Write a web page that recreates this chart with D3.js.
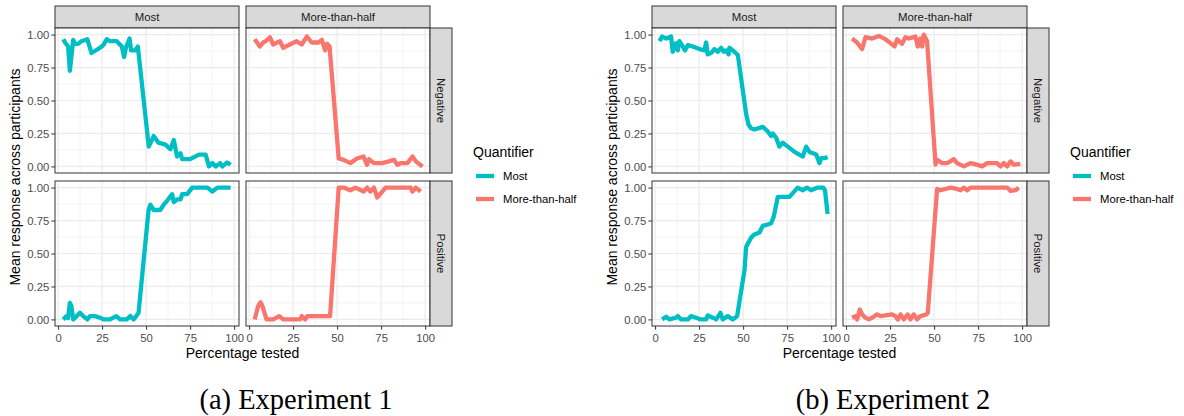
<!DOCTYPE html>
<html lang="en">
<head>
<meta charset="UTF-8">
<title>Mean response by percentage tested</title>
<script src="https://cdn.jsdelivr.net/npm/d3@7"></script>
<style>
    body { margin: 0; background: #fff; }
    svg { display: block; font-family: "Liberation Sans", Arial, sans-serif; }
</style>
</head>
<body>
<svg id="chart" width="1184" height="416"></svg>
<script>
// facet labels, ticks, colours
var quantifiers = ["Most", "More-than-half"];
var polarities = ["Negative", "Positive"];
var quantColors = ["#00BFC4", "#F8766D"];
var xTicks = [0, 25, 50, 75, 100];
var xMinor = [12.5, 37.5, 62.5, 87.5];
var yTicks = [0, 0.25, 0.5, 0.75, 1];
var yMinor = [0.125, 0.375, 0.625, 0.875];
var captions = ["(a) Experiment 1", "(b) Experiment 2"];

// [percentage tested, mean response]
var exp1MostNeg = [[3,0.965],[4,0.94],[5.7,0.91],[6.7,0.725],[8.6,0.96],[9.5,0.93],[11.4,0.93],[13.3,0.95],[16.6,0.965],[19,0.86],[23.8,0.9],[25.7,0.92],[27.6,0.965],[29.5,0.95],[33.3,0.95],[36.2,0.91],[37.5,0.83],[38.5,0.9],[40.6,0.97],[41.5,0.88],[43.8,0.88],[45.3,0.91],[51.5,0.15],[54.3,0.23],[57,0.18],[61,0.165],[63.8,0.13],[65.7,0.2],[67.6,0.075],[69.5,0.1],[70.5,0.055],[75,0.055],[80,0.09],[83.8,0.09],[85.7,0],[87.6,0.025],[89.5,0],[92,0.025],[93.3,0],[96,0.03],[98,0.012]];
var exp1MthNeg = [[3.2,0.965],[6.1,0.91],[8,0.94],[9.5,0.95],[11.8,0.98],[13.7,0.925],[17.5,0.95],[19.4,0.9],[23.2,0.925],[27,0.95],[29.9,0.925],[32.8,0.985],[35.6,0.94],[39.4,0.94],[41.3,0.96],[43.2,0.88],[44.3,0.93],[45.7,0.91],[50.9,0.06],[53.7,0.05],[57.5,0.025],[61.3,0.06],[65,0.075],[67,0.012],[68,0.055],[70.9,0.025],[75.6,0.025],[79.4,0.038],[82.3,0.05],[84.2,0.012],[86,0.025],[89.9,0.025],[92.8,0.075],[94.7,0.038],[98.5,0]];
var exp1MostPos = [[2.9,0],[4.8,0.025],[5.7,0.01],[6.7,0.125],[7.6,0.1],[8.6,0],[10.5,0.025],[12.4,0.05],[14.3,0.025],[16.6,0],[18.1,0.025],[21,0.025],[23.8,0.013],[25.7,0],[29.5,0],[33,0.025],[35.2,0],[39,0],[41,0.025],[42.9,0],[44.4,0.025],[45.7,0.05],[51.4,0.83],[52.4,0.87],[54.3,0.83],[58,0.83],[60,0.87],[61.9,0.9],[64.8,0.95],[65.7,0.89],[67.6,0.91],[69.5,0.91],[70.5,0.95],[73.3,0.95],[76.2,1],[84.8,1],[87.6,0.97],[90.5,1],[98,1]];
var exp1MthPos = [[3.2,0],[5.1,0.1],[6.5,0.13],[7.6,0.1],[9.9,0],[13.7,0],[17.1,0.025],[19.4,0],[29,0],[29.9,0.025],[31.8,0],[33.1,0.025],[46,0.025],[50.9,1],[53.7,1],[57.5,0.98],[60.4,1],[65.1,0.97],[67,1],[68.9,0.97],[70.9,1],[72.8,0.925],[74.7,0.955],[77.5,1],[91.8,1],[92.8,0.97],[94.7,1],[97.5,0.97]];

var exp2MostNeg = [[2.5,0.95],[4,0.985],[6.3,0.97],[9.1,0.985],[10,0.87],[11.9,0.935],[12.9,0.88],[13.8,0.95],[15.7,0.91],[17,0.88],[18.6,0.92],[21.4,0.91],[25.2,0.89],[28,0.88],[29,0.94],[29.9,0.85],[31.8,0.86],[33.7,0.89],[35.6,0.87],[37.5,0.9],[39,0.87],[40.3,0.88],[41.7,0.85],[42.2,0.9],[45,0.87],[47,0.845],[51.7,0.4],[53,0.32],[54.5,0.29],[56.4,0.28],[61.2,0.3],[64,0.265],[65.9,0.23],[66.9,0.25],[68.8,0.215],[70.6,0.15],[72.5,0.18],[75.4,0.15],[79.2,0.11],[83.9,0.075],[85.8,0.15],[87.7,0.11],[91.5,0.09],[93.4,0.025],[94.3,0.063],[96.2,0.063],[98,0.07]];
var exp2MthNeg = [[3.4,0.97],[6.2,0.94],[9.1,0.89],[11,0.98],[14.8,0.97],[18.6,0.99],[22.3,0.965],[25.2,0.935],[27.5,0.91],[29,0.965],[31.8,0.93],[33.7,0.98],[35.6,0.97],[39.4,0.985],[40.7,0.91],[42.2,0.97],[43.2,0.91],[44.1,1],[46,0.95],[50.8,0.013],[51.7,0.05],[54.5,0.025],[57.4,0.025],[61.2,0.055],[63,0.025],[66.9,0],[70.6,0.025],[74.4,0.013],[77.3,0],[80.1,0.025],[85.8,0.025],[87.7,0],[89.6,0.025],[91.5,0],[93.4,0.038],[95.3,0.013],[99,0.02]];
var exp2MostPos = [[4,0],[6.3,0.02],[8.1,0],[11.9,0.013],[12.9,0.025],[14.8,0],[18.6,0],[20.5,0.025],[23.3,0.013],[26,0],[29,0],[29.9,0.03],[32.8,0.013],[34.7,0],[37.1,0.05],[38.4,0],[41.3,0.025],[44.1,0],[46.6,0.025],[50.8,0.375],[51.7,0.55],[54.5,0.62],[56.4,0.645],[59.3,0.66],[61.2,0.71],[64,0.72],[65.9,0.73],[67.4,0.78],[69.7,0.93],[76.3,0.93],[81,1],[83.9,0.98],[86.2,1],[88.6,0.98],[92.4,1],[95.5,1],[96.5,0.98],[98,0.8]];
var exp2MthPos = [[3.4,0.013],[5.3,0.025],[6.3,0],[7.8,0.075],[9.1,0.038],[11,0.013],[12.9,0],[14.8,0.013],[17.6,0.038],[19.5,0.025],[26.1,0.038],[28,0.025],[29.4,0],[30.9,0.038],[32.8,0],[35,0.038],[36.6,0],[38.4,0.038],[40.3,0],[42.2,0.025],[45.6,0.038],[46.4,0.05],[51.7,0.99],[53.6,0.98],[59.3,1],[63,0.99],[65,0.98],[66.9,1],[68.8,0.98],[70.6,1],[91.5,1],[93.4,0.975],[96.2,0.98],[98.1,1]];

// series[experiment][quantifier][polarity]
var series = [
    [[exp1MostNeg, exp1MostPos], [exp1MthNeg, exp1MthPos]],
    [[exp2MostNeg, exp2MostPos], [exp2MthNeg, exp2MthPos]]
];

// layout
var panelW = 184, panelH = 145, gapX = 7, gapY = 8, strip = 22;
var left0 = 55, top0 = 28, expShift = 597;

var x = d3.scaleLinear().domain([-1.75, 102.75]).range([0, panelW]);
var y = d3.scaleLinear().domain([-0.05, 1.05]).range([panelH, 0]);
var line = d3.line().x(function (d) { return x(d[0]); }).y(function (d) { return y(d[1]); });

var svg = d3.select("#chart");
svg.append("rect").attr("width", 1184).attr("height", 416).attr("fill", "#fff");

function drawPanel(g, data, color) {
    g.append("rect").attr("width", panelW).attr("height", panelH).attr("fill", "#fff");

    // minor then major grid
    g.selectAll(".vmin").data(xMinor).enter().append("line")
        .attr("x1", x).attr("x2", x).attr("y1", 0).attr("y2", panelH)
        .attr("stroke", "#EBEBEB").attr("stroke-width", 0.6);
    g.selectAll(".hmin").data(yMinor).enter().append("line")
        .attr("y1", y).attr("y2", y).attr("x1", 0).attr("x2", panelW)
        .attr("stroke", "#EBEBEB").attr("stroke-width", 0.6);
    g.selectAll(".vmaj").data(xTicks).enter().append("line")
        .attr("x1", x).attr("x2", x).attr("y1", 0).attr("y2", panelH)
        .attr("stroke", "#EBEBEB").attr("stroke-width", 1.2);
    g.selectAll(".hmaj").data(yTicks).enter().append("line")
        .attr("y1", y).attr("y2", y).attr("x1", 0).attr("x2", panelW)
        .attr("stroke", "#EBEBEB").attr("stroke-width", 1.2);

    g.append("path").datum(data)
        .attr("d", line)
        .attr("fill", "none")
        .attr("stroke", color)
        .attr("stroke-width", 4.3)
        .attr("stroke-linejoin", "round");

    g.append("rect").attr("width", panelW).attr("height", panelH)
        .attr("fill", "none").attr("stroke", "#333333").attr("stroke-width", 1);
}

function styleAxis(a) {
    a.select(".domain").remove();
    a.selectAll(".tick line").attr("stroke", "#333333").attr("stroke-width", 1);
    a.selectAll(".tick text").attr("fill", "#4D4D4D")
        .style("font-size", "11.3px").style("font-family", "Liberation Sans, Arial, sans-serif");
}

function drawExperiment(e) {
    var g = svg.append("g").attr("transform", "translate(" + (e * expShift) + ",0)");

    quantifiers.forEach(function (q, c) {
        var px = left0 + c * (panelW + gapX);

        // top strip
        g.append("rect").attr("x", px).attr("y", top0 - strip)
            .attr("width", panelW).attr("height", strip)
            .attr("fill", "#D9D9D9").attr("stroke", "#333333").attr("stroke-width", 1);
        g.append("text").attr("x", px + panelW / 2).attr("y", top0 - strip / 2)
            .attr("text-anchor", "middle").attr("dy", "0.35em")
            .attr("fill", "#1A1A1A").style("font-size", "11.4px").text(q);

        polarities.forEach(function (p, r) {
            var py = top0 + r * (panelH + gapY);
            var pg = g.append("g").attr("transform", "translate(" + px + "," + py + ")");
            drawPanel(pg, series[e][c][r], quantColors[c]);

            if (c === 0) {
                pg.append("g").call(d3.axisLeft(y).tickValues(yTicks)
                    .tickFormat(d3.format(".2f")).tickSize(3.7).tickPadding(2)).call(styleAxis);
            }
            if (r === polarities.length - 1) {
                pg.append("g").attr("transform", "translate(0," + panelH + ")")
                    .call(d3.axisBottom(x).tickValues(xTicks)
                        .tickFormat(d3.format("d")).tickSize(3.7).tickPadding(4)).call(styleAxis);
            }
            if (c === quantifiers.length - 1) {
                pg.append("rect").attr("x", panelW).attr("y", 0)
                    .attr("width", strip).attr("height", panelH)
                    .attr("fill", "#D9D9D9").attr("stroke", "#333333").attr("stroke-width", 1);
                pg.append("text")
                    .attr("transform", "translate(" + (panelW + strip / 2) + "," + (panelH / 2) + ") rotate(90)")
                    .attr("text-anchor", "middle").attr("dy", "0.35em")
                    .attr("fill", "#1A1A1A").style("font-size", "11.4px").text(p);
            }
        });
    });

    var plotRight = left0 + 2 * panelW + gapX;
    var plotBottom = top0 + 2 * panelH + gapY;

    // axis titles
    g.append("text").attr("x", (left0 + plotRight) / 2).attr("y", 357.5)
        .attr("text-anchor", "middle").style("font-size", "14px").attr("fill", "#000")
        .text("Percentage tested");
    g.append("text")
        .attr("transform", "translate(19.5," + ((top0 + plotBottom) / 2) + ") rotate(-90)")
        .attr("text-anchor", "middle").style("font-size", "14px").attr("fill", "#000")
        .text("Mean response across participants");

    // legend
    var lx = plotRight + strip + 21;
    var lg = g.append("g").attr("transform", "translate(" + lx + ",0)");
    lg.append("text").attr("x", 0).attr("y", 157).style("font-size", "14px")
        .attr("fill", "#000").text("Quantifier");
    quantifiers.forEach(function (q, i) {
        var ky = 176 + i * 23;
        lg.append("line").attr("x1", 3).attr("x2", 21).attr("y1", ky).attr("y2", ky)
            .attr("stroke", quantColors[i]).attr("stroke-width", 4.3);
        lg.append("text").attr("x", 30).attr("y", ky).attr("dy", "0.35em")
            .style("font-size", "11.3px").attr("fill", "#000").text(q);
    });

    // caption
    g.append("text").attr("x", 296).attr("y", 409).attr("text-anchor", "middle")
        .style("font-family", "Liberation Serif, Times New Roman, serif")
        .style("font-size", "28.5px").attr("fill", "#000").text(captions[e]);
}

drawExperiment(0);
drawExperiment(1);
</script>
</body>
</html>
